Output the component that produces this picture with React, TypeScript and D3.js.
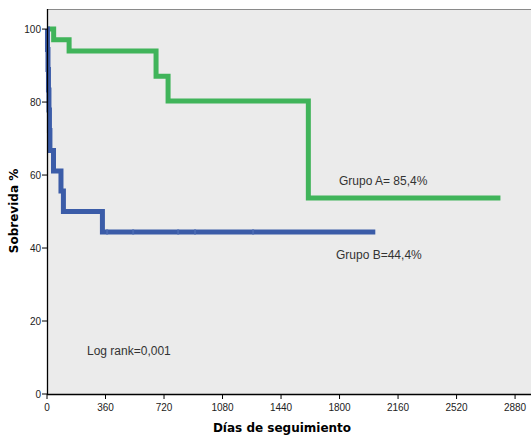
import React from "react";
import * as d3 from "d3";

const xTicks = [0, 360, 720, 1080, 1440, 1800, 2160, 2520, 2880];
const yTicks = [0, 20, 40, 60, 80, 100];

// Grupo A (green) step curve
const aTimes = [0, 41, 136, 671, 745, 1608];
const aValues = [100, 97.1, 94.0, 87.1, 80.3, 53.7];
const aEnd = 2790;

// Grupo B (blue) step curve
const bTimes = [0, 3, 6, 9, 12, 15, 18, 40, 86, 101, 341];
const bValues = [100, 94.4, 88.9, 83.3, 77.8, 72.2, 66.7, 61.1, 55.6, 50.0, 44.4];
const bEnd = 2020;
const bCensored = [370, 530, 807, 911, 1268];

const W = 531;
const H = 437;
const left = 47;
const right = 531;
const top = 9;
const bottom = 394;

function stepPoints(times: number[], values: number[], end: number): [number, number][] {
  const pts: [number, number][] = [];
  times.forEach((t, i) => pts.push([t, values[i]]));
  pts.push([end, values[values.length - 1]]);
  return pts;
}

export default function App() {
  const x = d3.scaleLinear().domain([0, 2978]).range([left, right]);
  const y = d3.scaleLinear().domain([0, 105.5]).range([bottom, top]);
  const line = d3
    .line<[number, number]>()
    .x((d) => x(d[0]))
    .y((d) => y(d[1]))
    .curve(d3.curveStepAfter);

  const green = "#40b45a";
  const blue = "#3b5ca8";
  const font = "Arial, 'Liberation Sans', sans-serif";

  return (
    <svg
      width={W}
      height={H}
      style={{ position: "absolute", left: 0, top: 0, background: "#fff" }}
      fontFamily={font}
    >
      <rect x={left} y={top} width={right - left} height={bottom - top} fill="#ebebeb" />
      <line x1={left} x2={right} y1={top + 0.5} y2={top + 0.5} stroke="#8a8a8a" strokeWidth={1} />

      <path d={line(stepPoints(aTimes, aValues, aEnd)) || ""} fill="none" stroke={green} strokeWidth={5} strokeLinejoin="miter" strokeLinecap="butt" />
      <path d={line(stepPoints(bTimes, bValues, bEnd)) || ""} fill="none" stroke={blue} strokeWidth={5} strokeLinejoin="miter" strokeLinecap="butt" />
      {bCensored.map((t, i) => (
        <line key={i} x1={x(t)} x2={x(t)} y1={y(44.4) - 2.5} y2={y(44.4) + 2.5} stroke="#4a6ab2" strokeWidth={2} />
      ))}

      {/* axes */}
      <line x1={left + 0.5} x2={left + 0.5} y1={top} y2={bottom} stroke="#000" strokeWidth={1.3} />
      <line x1={left} x2={right} y1={bottom + 0.5} y2={bottom + 0.5} stroke="#000" strokeWidth={1.3} />

      {yTicks.map((t) => (
        <g key={t}>
          <line x1={left - 5} x2={left} y1={y(t)} y2={y(t)} stroke="#000" strokeWidth={1} />
          <text x={left - 6} y={y(t) + 3.5} fontSize={10} textAnchor="end" fill="#222">
            {t}
          </text>
        </g>
      ))}
      {xTicks.map((t) => (
        <g key={t}>
          <line x1={x(t)} x2={x(t)} y1={bottom} y2={bottom + 5} stroke="#000" strokeWidth={1} />
          <text x={x(t)} y={bottom + 17} fontSize={10} textAnchor="middle" fill="#222">
            {t}
          </text>
        </g>
      ))}

      <text x={282} y={432} fontSize={12} fontWeight="bold" textAnchor="middle" fill="#000" fontFamily="'DejaVu Sans', sans-serif">
        Días de seguimiento
      </text>
      <text
        transform={`translate(18, ${211}) rotate(-90)`}
        fontSize={12}
        fontWeight="bold"
        textAnchor="middle"
        fill="#000"
        fontFamily="'DejaVu Sans', sans-serif"
      >
        Sobrevida %
      </text>

      <text x={339} y={185} fontSize={12} fill="#333">Grupo A= 85,4%</text>
      <text x={336} y={259} fontSize={12} fill="#333">Grupo B=44,4%</text>
      <text x={87} y={355} fontSize={12} fill="#333">Log rank=0,001</text>
    </svg>
  );
}
